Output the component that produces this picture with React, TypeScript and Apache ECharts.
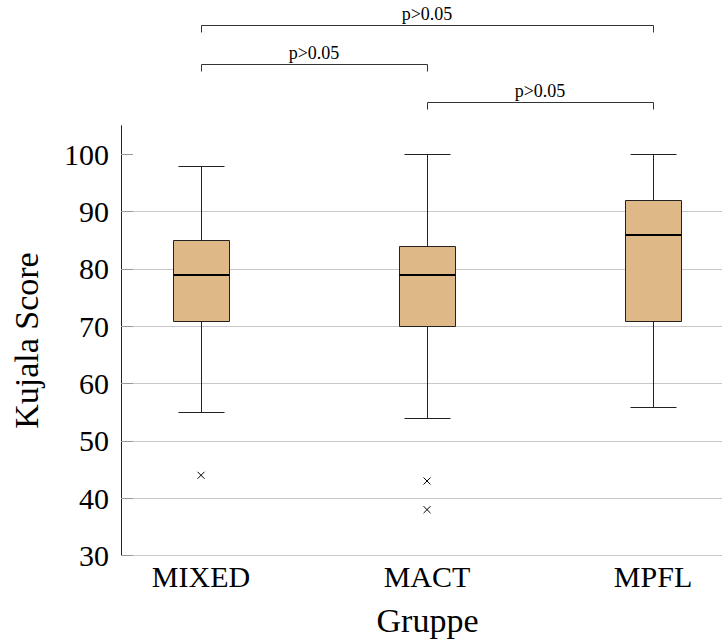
import React, { useEffect, useRef } from 'react';
import * as echarts from 'echarts';

const CATEGORIES = ['MIXED', 'MACT', 'MPFL'];
const WHISKER_LOW = [55, 54, 56];
const Q1 = [71, 70, 71];
const MEDIAN = [79, 79, 86];
const Q3 = [85, 84, 92];
const WHISKER_HIGH = [98, 100, 100];
const OUTLIER_GROUP = [0, 1, 1];
const OUTLIER_VALUE = [44, 43, 38];
const Y_TICKS = [30, 40, 50, 60, 70, 80, 90, 100];
const CMP_FROM = [0, 0, 1];
const CMP_TO = [2, 1, 2];
const CMP_LEVEL = [122.5, 115.7, 109.1];
const CMP_LABEL = ['p>0.05', 'p>0.05', 'p>0.05'];

const FONT = 'Liberation Serif';
const r = (v: number) => Math.round(v) + 0.5;

export default function App() {
  const ref = useRef<HTMLDivElement>(null);
  useEffect(() => {
    if (!ref.current) return;
    const chart = echarts.init(ref.current, null, { renderer: 'svg' });
    const boxData = CATEGORIES.map((_, i) => [i + 1, WHISKER_LOW[i], Q1[i], MEDIAN[i], Q3[i], WHISKER_HIGH[i]]);
    const outlierData = OUTLIER_GROUP.map((g, i) => [g + 1, OUTLIER_VALUE[i]]);
    const cmpData = CMP_FROM.map((f, i) => [f + 1, CMP_TO[i] + 1, CMP_LEVEL[i], i]);
    chart.setOption({
      animation: false,
      backgroundColor: '#fff',
      textStyle: { fontFamily: FONT, color: '#000' },
      grid: { left: 121, right: 0, top: 125.7, bottom: 83.5, containLabel: false, outerBoundsMode: 'none' },
      xAxis: {
        type: 'value',
        min: 0.646,
        max: 3.305,
        name: 'Gruppe',
        nameLocation: 'middle',
        nameGap: 48,
        nameTextStyle: { fontFamily: FONT, fontSize: 34, color: '#000', padding: [0, 0, 0, 12] },
        axisLine: { show: false },
        axisTick: { show: false },
        splitLine: { show: false },
        axisLabel: {
          customValues: [1, 2, 3],
          formatter: (v: number) => CATEGORIES[Math.round(v) - 1] ?? '',
          fontFamily: FONT,
          fontSize: 30,
          color: '#000',
          margin: 6,
        },
      },
      yAxis: {
        type: 'value',
        min: 30,
        max: 105,
        interval: 10,
        name: 'Kujala Score',
        nameLocation: 'middle',
        nameGap: 78,
        nameTextStyle: { fontFamily: FONT, fontSize: 34, color: '#000' },
        axisLine: { show: true, lineStyle: { color: '#222', width: 1 } },
        axisTick: { show: true, inside: true, length: 12, customValues: Y_TICKS, lineStyle: { color: '#999' } },
        axisLabel: { customValues: Y_TICKS, fontFamily: FONT, fontSize: 30, color: '#000', margin: 12 },
        splitLine: { show: true, showMaxLine: false, lineStyle: { color: '#c8c8c8', width: 1 } },
      },
      series: [
        {
          type: 'custom',
          data: boxData,
          encode: { x: 0, y: [1, 2, 3, 4, 5] },
          renderItem: (params: any, api: any) => {
            const x = api.value(0);
            const lo = api.coord([x, api.value(1)]);
            const q1 = api.coord([x, api.value(2)]);
            const md = api.coord([x, api.value(3)]);
            const q3 = api.coord([x, api.value(4)]);
            const hi = api.coord([x, api.value(5)]);
            const halfBox = Math.round(api.size([0.25, 0])[0] / 2);
            const halfCap = Math.round(api.size([0.2, 0])[0] / 2);
            const cx = r(lo[0]);
            const lineStyle = { stroke: '#222', lineWidth: 1 };
            return {
              type: 'group',
              children: [
                { type: 'line', shape: { x1: cx, y1: r(hi[1]), x2: cx, y2: r(q3[1]) }, style: lineStyle },
                { type: 'line', shape: { x1: cx, y1: r(q1[1]), x2: cx, y2: r(lo[1]) }, style: lineStyle },
                { type: 'line', shape: { x1: cx - halfCap, y1: r(hi[1]), x2: cx + halfCap, y2: r(hi[1]) }, style: lineStyle },
                { type: 'line', shape: { x1: cx - halfCap, y1: r(lo[1]), x2: cx + halfCap, y2: r(lo[1]) }, style: lineStyle },
                {
                  type: 'rect',
                  shape: { x: cx - halfBox, y: r(q3[1]), width: halfBox * 2, height: r(q1[1]) - r(q3[1]) },
                  style: { fill: '#DEB887', stroke: '#222', lineWidth: 1 },
                },
                {
                  type: 'line',
                  shape: { x1: cx - halfBox, y1: Math.round(md[1]), x2: cx + halfBox, y2: Math.round(md[1]) },
                  style: { stroke: '#000', lineWidth: 2 },
                },
              ],
            };
          },
        },
        {
          type: 'custom',
          data: outlierData,
          encode: { x: 0, y: 1 },
          renderItem: (params: any, api: any) => {
            const p = api.coord([api.value(0), api.value(1)]);
            const s = 3.5;
            const st = { stroke: '#000', lineWidth: 1 };
            return {
              type: 'group',
              children: [
                { type: 'line', shape: { x1: p[0] - s, y1: p[1] - s, x2: p[0] + s, y2: p[1] + s }, style: st },
                { type: 'line', shape: { x1: p[0] - s, y1: p[1] + s, x2: p[0] + s, y2: p[1] - s }, style: st },
              ],
            };
          },
        },
        {
          type: 'custom',
          clip: false,
          data: cmpData,
          encode: { x: [0, 1], y: 2 },
          renderItem: (params: any, api: any) => {
            const a = api.coord([api.value(0), api.value(2)]);
            const b = api.coord([api.value(1), api.value(2)]);
            const idx = api.value(3);
            const y = r(a[1]);
            const drop = 7;
            const st = { stroke: '#333', lineWidth: 1 };
            const x1 = r(a[0]);
            const x2 = r(b[0]);
            return {
              type: 'group',
              children: [
                { type: 'line', shape: { x1, y1: y, x2, y2: y }, style: st },
                { type: 'line', shape: { x1, y1: y, x2: x1, y2: y + drop }, style: st },
                { type: 'line', shape: { x1: x2, y1: y, x2, y2: y + drop }, style: st },
                {
                  type: 'text',
                  style: {
                    text: CMP_LABEL[idx],
                    x: (a[0] + b[0]) / 2,
                    y: y - 3,
                    align: 'center',
                    verticalAlign: 'bottom',
                    fontFamily: FONT,
                    fontSize: 18,
                    fill: '#000',
                  },
                },
              ],
            };
          },
        },
      ],
    });
    return () => chart.dispose();
  }, []);
  return <div ref={ref} style={{ position: 'fixed', left: 0, top: 0, width: 722, height: 639, background: '#fff' }} />;
}
